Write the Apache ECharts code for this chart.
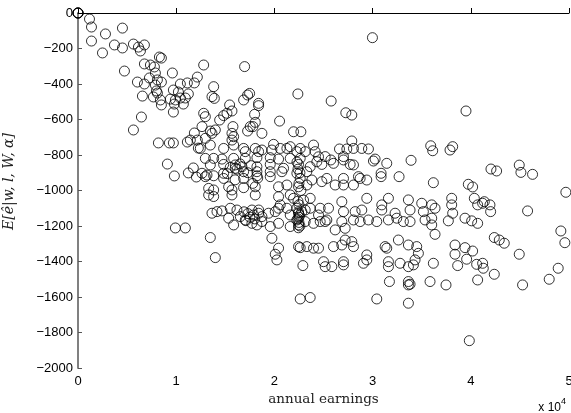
<!DOCTYPE html>
<html>
<head>
<meta charset="utf-8">
<script src="https://cdn.jsdelivr.net/npm/echarts@6/dist/echarts.min.js"></script>
<style>
  html, body { margin: 0; padding: 0; background: #fff; }
  #chart { width: 571px; height: 413px; }
</style>
</head>
<body>
<div id="chart"></div>
<script>
// axis ticks
const xTicks = [0, 10000, 20000, 30000, 40000, 50000];
const xTickLabels = ['0', '1', '2', '3', '4', '5'];
const yTicks = [-2000, -1800, -1600, -1400, -1200, -1000, -800, -600, -400, -200, 0];

// [annual earnings, expected value]
const samples = [
  [0, 0], [0, 0], [0, 0], [0, 0],
  [1170, -34], [1373, -79], [1373, -158], [2797, -118], [2492, -225], [3712, -180], [4526, -85], [4526, -197],
  [5644, -175], [6153, -192], [6357, -214], [6763, -180], [4729, -327], [6763, -287], [7373, -293], [7780, -304],
  [8289, -248], [8492, -254], [6051, -389], [6763, -400], [7272, -366], [7882, -338], [8085, -377], [7882, -406],
  [7983, -439], [8085, -451], [8492, -389], [7678, -473], [6560, -468], [8390, -490], [8492, -518], [9611, -338],
  [9407, -485], [9916, -490], [9814, -513], [9712, -558], [9712, -434], [10221, -445], [10424, -400], [10424, -479],
  [10933, -479], [10729, -513], [11238, -456], [11136, -394], [11848, -394], [12153, -361], [6458, -586], [5644, -659],
  [8187, -732], [9306, -732], [9712, -732], [9102, -851], [9814, -918], [11136, -727], [11441, -716], [11848, -676],
  [12153, -716], [12255, -761], [11238, -901], [11746, -873], [12051, -924],
  [9916, -1211], [10933, -1211],
  [12797, -293], [16966, -302], [13814, -415], [13644, -471], [13882, -481], [17475, -453], [17271, -462], [16865, -490],
  [18390, -509], [18390, -522], [22390, -456], [15441, -518], [15170, -565], [15679, -552], [14831, -578], [12797, -565],
  [12967, -584], [14424, -603], [17984, -571], [18051, -616], [17814, -640], [20526, -609], [12628, -640], [13475, -665],
  [15780, -640], [15679, -678], [15848, -697], [17543, -640], [17271, -665], [18729, -678], [13644, -678], [13984, -659],
  [21950, -669], [22695, -669], [12967, -706], [13475, -744], [12458, -763], [14831, -763], [15679, -716], [15848, -744],
  [16865, -763], [17034, -781], [18051, -763], [18390, -781], [18729, -772], [19916, -740], [19746, -772], [20594, -763],
  [21272, -763], [21611, -753], [22289, -781], [22628, -763], [23136, -781], [23984, -744], [24153, -781], [24492, -810],
  [12967, -819], [13814, -819], [14661, -823], [15848, -819], [17034, -819], [18221, -815], [19577, -815], [20424, -823],
  [21611, -819], [22628, -819], [13475, -856], [14831, -853], [16017, -856], [16695, -866], [18221, -866], [19577, -853],
  [20933, -875], [22458, -853], [23645, -866], [24323, -838], [12628, -903], [13136, -913], [13814, -917], [14831, -903],
  [16017, -875], [16865, -894], [18221, -894], [19577, -894], [20763, -894], [22289, -903], [23306, -894], [12967, -922],
  [14831, -932], [16865, -932], [18221, -917], [19577, -922], [22628, -932], [23814, -941], [13306, -988], [13814, -997],
  [15340, -979], [15679, -997], [16865, -984], [18051, -979], [20424, -979], [21272, -969], [22458, -979], [23306, -969],
  [18051, -1025], [20424, -1035], [21950, -1044], [22967, -1054], [23645, -1044],
  [15500, -870], [16200, -880], [17300, -900], [17600, -860], [18300, -930], [15200, -905], [16500, -850], [22400, -880],
  [22600, -900], [22500, -960], [22700, -1000], [22300, -840], [17800, -960], [16000, -940],
  [13306, -1025], [13814, -1034], [15679, -1025], [21611, -1025],
  [13644, -1128], [14153, -1119], [14661, -1115], [15509, -1100], [16187, -1110], [16526, -1147], [17712, -1110], [17882, -1138],
  [18390, -1128], [18729, -1147], [19407, -1128], [20085, -1119], [20424, -1100], [20594, -1081], [21272, -1100], [21611, -1138],
  [22289, -1100], [22458, -1128], [22797, -1119], [23136, -1110], [23645, -1100], [24492, -1138],
  [15340, -1156], [15848, -1194], [17034, -1166], [17712, -1185], [18221, -1194], [18729, -1175], [19577, -1203], [20424, -1185],
  [21611, -1203], [22289, -1166], [22458, -1194], [23136, -1175],
  [22400, -1060], [22500, -1080], [22450, -1120], [22550, -1140], [22400, -1160], [22500, -1180], [22600, -1200], [22450, -1210],
  [22500, -1150], [16900, -1120], [17300, -1130], [17500, -1150], [18000, -1160], [18400, -1110], [17100, -1170],
  [13475, -1265], [13984, -1378], [19746, -1269], [20424, -1325], [20085, -1359], [20255, -1391], [22458, -1316], [22628, -1322],
  [23306, -1316], [22899, -1423], [22628, -1611], [23645, -1603],
  [29984, -139], [25781, -496], [27272, -562], [27883, -575], [27883, -721], [26628, -766], [27374, -766], [28052, -763],
  [28900, -763], [29577, -766], [25170, -809], [25747, -828], [26018, -847], [27035, -809], [27035, -828], [27713, -853],
  [28052, -856], [30086, -834], [30255, -823], [31442, -847], [33916, -830], [35917, -748], [36120, -776], [24831, -853],
  [24831, -950], [25340, -932], [26188, -969], [27035, -932], [27035, -969], [28052, -969], [28560, -922], [28730, -932],
  [29408, -941], [30866, -903], [30866, -922], [32696, -922], [36188, -956],
  [24662, -1100], [25510, -1100], [26866, -1063], [27035, -1119], [28222, -1119], [28900, -1110], [29408, -1044], [30934, -1081],
  [30934, -1110], [31612, -1044], [32290, -1128], [33646, -1053], [33815, -1110], [35002, -1072], [36019, -1081], [36358, -1100],
  [35171, -1119], [23984, -1185], [24662, -1175], [25170, -1175], [25340, -1166], [26188, -1222], [26866, -1175], [27205, -1213],
  [28052, -1166], [28730, -1175], [29578, -1166], [30425, -1175], [31612, -1166], [32459, -1156], [33137, -1175], [33815, -1175],
  [35341, -1166], [36019, -1194], [36358, -1247],
  [23984, -1325], [24493, -1325], [26018, -1316], [26866, -1307], [27205, -1279], [28052, -1316], [27883, -1288], [29408, -1363],
  [31273, -1316], [31442, -1325], [32629, -1279], [33646, -1307], [34493, -1316], [34663, -1354],
  [25001, -1401], [25170, -1429], [25849, -1429], [27035, -1419], [27035, -1401], [29069, -1410], [29408, -1391], [31612, -1401],
  [31612, -1429], [32798, -1410], [33646, -1429], [34154, -1419], [34324, -1391], [36188, -1410],
  [31713, -1513], [33646, -1513], [33815, -1528], [33646, -1532], [35849, -1513], [30425, -1611], [33646, -1635],
  [39510, -552], [37883, -772], [38154, -753], [42053, -879], [42629, -890], [44934, -857], [45104, -898], [46290, -909],
  [39747, -965], [40188, -980], [49680, -1010],
  [38053, -1044], [38053, -1081], [38154, -1128], [37713, -1171], [36019, -1156], [40358, -1044], [40697, -1081], [41205, -1072],
  [41375, -1063], [41951, -1081], [42019, -1119], [45782, -1115], [39409, -1156], [40087, -1171], [40697, -1185],
  [42392, -1265], [42900, -1279], [43409, -1297], [49171, -1228], [49578, -1294],
  [38392, -1307], [38392, -1359], [39409, -1322], [40188, -1341], [39578, -1387], [38663, -1423], [40595, -1416], [41205, -1410],
  [41273, -1438], [42392, -1472], [44934, -1359], [37476, -1532], [40697, -1504], [45273, -1532], [47985, -1500], [48900, -1438],
  [39849, -1846]
];

const chart = echarts.init(document.getElementById('chart'), null, { renderer: 'canvas' });

const tickFont = { color: '#000', fontSize: 13, fontFamily: 'Liberation Sans, Arial, sans-serif' };

chart.setOption({
  animation: false,
  backgroundColor: '#fff',
  grid: { left: 78, right: 2, top: 13, bottom: 45, outerBoundsMode: 'none', containLabel: false },
  xAxis: {
    type: 'value',
    min: xTicks[0],
    max: xTicks[xTicks.length - 1],
    interval: xTicks[1] - xTicks[0],
    name: 'annual earnings',
    nameLocation: 'middle',
    nameGap: 24,
    nameTextStyle: { color: '#222', fontSize: 13.5, fontFamily: 'DejaVu Serif, serif' },
    axisLine: { lineStyle: { color: '#000', width: 1 } },
    axisTick: { inside: true, length: 5, lineStyle: { color: '#000' } },
    axisLabel: {
      ...tickFont,
      margin: 7,
      showMinLabel: true,
      showMaxLabel: true,
      formatter: v => xTickLabels[xTicks.indexOf(v)]
    },
    splitLine: { show: false }
  },
  yAxis: {
    type: 'value',
    min: yTicks[0],
    max: yTicks[yTicks.length - 1],
    interval: 200,
    name: 'E[ê|w, l, W, α]',
    nameLocation: 'middle',
    nameGap: 62,
    nameTextStyle: { color: '#222', fontSize: 14, fontStyle: 'italic', fontFamily: 'DejaVu Serif, serif', padding: [0, 0, 0, 18] },
    axisLine: { show: true, lineStyle: { color: '#808080', width: 2 } },
    axisTick: { inside: true, length: 4, lineStyle: { color: '#555' } },
    axisLabel: {
      ...tickFont,
      margin: 5,
      showMinLabel: true,
      showMaxLabel: true,
      hideOverlap: false,
      formatter: v => (v === 0 ? '0' : '\u2212' + Math.abs(v))
    },
    splitLine: { show: false }
  },
  series: [
    {
      type: 'scatter',
      data: samples,
      symbol: 'circle',
      symbolSize: 10,
      clip: false,
      itemStyle: { color: 'rgba(0,0,0,0)', borderColor: '#000', borderWidth: 1 },
      emphasis: { disabled: true },
      markLine: {
        silent: true,
        symbol: 'none',
        label: { show: false },
        lineStyle: { color: '#000', width: 1, type: 'solid' },
        data: [{ yAxis: yTicks[yTicks.length - 1] }]
      }
    }
  ],
  graphic: [
    {
      type: 'text',
      right: 5,
      top: 397,
      style: {
        text: '{b|x 10}{s|4}',
        rich: {
          b: { fontSize: 12, fontFamily: 'Liberation Sans, Arial, sans-serif', fill: '#000', padding: [6, 0, 0, 0] },
          s: { fontSize: 9, fontFamily: 'Liberation Sans, Arial, sans-serif', fill: '#000', padding: [0, 0, 6, 0] }
        }
      }
    }
  ]
});
</script>
</body>
</html>
